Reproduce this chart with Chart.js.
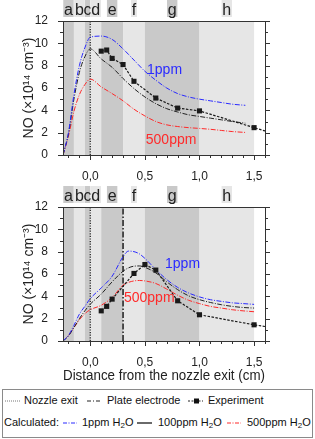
<!DOCTYPE html>
<html>
<head>
<meta charset="utf-8">
<script src="https://cdn.jsdelivr.net/npm/chart.js@4/dist/chart.umd.min.js"></script>
<style>
body { margin: 0; background: #fff; width: 315px; height: 439px; overflow: hidden; font-family: "Liberation Sans", Arial, sans-serif; }
#c1 { position: absolute; left: 0; top: 0; }
#c2 { position: absolute; left: 0; top: 186px; }
#legend { position: absolute; left: 2px; top: 389px; width: 309px; height: 47px; border: 1px solid #8a8a8a; font-size: 11px; color: #111; }
#legend .it { position: absolute; white-space: nowrap; line-height: 13px; }
#legend sub { font-size: 8px; vertical-align: -2px; line-height: 0; }
#legend svg { position: absolute; left: 0; top: 0; }
</style>
</head>
<body>
<canvas id="c1" width="315" height="185"></canvas>
<canvas id="c2" width="315" height="199"></canvas>
<div id="legend">
  <svg width="309" height="47">
    <line x1="2" y1="11" x2="18" y2="11" stroke="#777" stroke-width="1" stroke-dasharray="1,1"/>
    <line x1="84" y1="11" x2="99" y2="11" stroke="#222" stroke-width="1" stroke-dasharray="4,2,1,2"/>
    <line x1="185" y1="11" x2="200" y2="11" stroke="#222" stroke-width="1" stroke-dasharray="2,1.5"/>
    <rect x="191" y="8.5" width="5" height="5" fill="#111"/>
    <line x1="60" y1="33" x2="74" y2="33" stroke="#2a2aff" stroke-width="1" stroke-dasharray="4,1.5,1,1.5"/>
    <line x1="134" y1="33" x2="149" y2="33" stroke="#444" stroke-width="1.6"/>
    <line x1="224" y1="33" x2="238" y2="33" stroke="#ff2a2a" stroke-width="1" stroke-dasharray="4,1.5,1,1.5"/>
  </svg>
  <span class="it" style="left:21px;top:4px">Nozzle exit</span>
  <span class="it" style="left:104px;top:4px">Plate electrode</span>
  <span class="it" style="left:205px;top:4px">Experiment</span>
  <span class="it" style="left:1px;top:26px">Calculated:</span>
  <span class="it" style="left:79px;top:26px">1ppm H<sub>2</sub>O</span>
  <span class="it" style="left:155px;top:26px">100ppm H<sub>2</sub>O</span>
  <span class="it" style="left:244px;top:26px">500ppm H<sub>2</sub>O</span>
</div>
<script>
// shaded zones along the jet (cm) and their letters
const bandEdges = [-0.25, -0.15, -0.05, 0, 0.1, 0.3, 0.5, 1.0, 1.5];
const bandLetters = ['a', 'b', 'c', 'd', 'e', 'f', 'g', 'h'];

const xTickVals = [0, 0.5, 1.0, 1.5];
const yTickVals = [0, 2, 4, 6, 8, 10, 12];

// upper panel
const topX = [-0.25, -0.2, -0.15, -0.1, -0.05, 0, 0.1, 0.2, 0.3, 0.4, 0.5, 0.6, 0.7, 0.8, 0.9, 1.0, 1.1, 1.2, 1.3, 1.42];
const topBlue = [0, 2.0, 5.4, 8.0, 9.6, 10.55, 10.65, 10.35, 9.5, 8.5, 7.5, 6.7, 6.0, 5.5, 5.2, 5.0, 4.85, 4.7, 4.55, 4.45];
const topBlack = [0, 1.9, 5.0, 7.4, 8.8, 9.5, 8.6, 7.85, 6.85, 5.95, 5.2, 4.6, 4.15, 3.85, 3.6, 3.45, 3.3, 3.15, 3.0, 2.85];
const topRed = [0, 1.7, 3.9, 5.4, 6.3, 6.8, 6.1, 5.5, 4.85, 4.1, 3.5, 3.0, 2.7, 2.55, 2.45, 2.38, 2.3, 2.2, 2.1, 2.02];
const expTopX = [0.1, 0.15, 0.2, 0.3, 0.4, 0.6, 0.8, 1.0, 1.5, 1.6];
const expTopY = [9.3, 9.4, 8.65, 8.1, 6.6, 5.1, 4.2, 3.95, 2.45, 2.15];

// lower panel
const botX = [-0.25, -0.2, -0.15, -0.1, -0.05, 0, 0.1, 0.2, 0.3, 0.35, 0.4, 0.45, 0.5, 0.6, 0.7, 0.8, 0.9, 1.0, 1.1, 1.2, 1.3, 1.4, 1.5];
const botBlue = [0, 0.5, 1.4, 2.4, 3.1, 3.8, 4.75, 5.8, 7.55, 8.05, 8.0, 7.8, 7.4, 6.4, 5.5, 4.8, 4.3, 3.95, 3.7, 3.55, 3.42, 3.35, 3.28];
const botBlack = [0, 0.45, 1.2, 2.0, 2.7, 3.3, 4.2, 5.3, 6.25, 6.55, 6.7, 6.72, 6.6, 6.1, 5.3, 4.6, 4.05, 3.7, 3.45, 3.25, 3.1, 3.0, 2.95];
const botRed = [0, 0.5, 1.2, 1.9, 2.45, 2.8, 3.2, 3.9, 5.0, 5.25, 5.38, 5.42, 5.38, 5.15, 4.65, 4.1, 3.65, 3.35, 3.1, 2.95, 2.8, 2.7, 2.62];
const expBotX = [0.1, 0.15, 0.2, 0.4, 0.5, 0.6, 0.8, 1.0, 1.5, 1.6];
const expBotY = [2.7, 3.1, 3.75, 6.05, 6.85, 6.35, 3.6, 2.35, 1.45, 1.3];

const nozzleX = 0;
const plateX = 0.3;

Chart.defaults.font.family = '"Liberation Sans", Arial, sans-serif';
Chart.defaults.color = '#222';

const DARK = '#c9c9c9', LIGHT = '#e6e6e6';
const BLUE = '#2a2aff', RED = '#ff2a2a', BLACK = '#1a1a1a';

const pts = (xs, ys) => xs.map((x, i) => ({ x: x, y: ys[i] }));

const zones = {
  id: 'zones',
  beforeDraw(chart) {
    const { ctx, chartArea: a, scales: { x } } = chart;
    ctx.save();
    ctx.font = '16px "Liberation Sans", Arial, sans-serif';
    ctx.textAlign = 'center';
    ctx.textBaseline = 'alphabetic';
    for (let i = 0; i < bandLetters.length; i++) {
      const x0 = x.getPixelForValue(bandEdges[i]);
      const x1 = x.getPixelForValue(bandEdges[i + 1]);
      ctx.fillStyle = i % 2 === 0 ? DARK : LIGHT;
      ctx.fillRect(x0, a.top, x1 - x0, a.bottom - a.top);
      const bw = Math.min(x1 - x0, ctx.measureText(bandLetters[i]).width + 1.5);
      const cx = (x0 + x1) / 2;
      ctx.fillRect(cx - bw / 2, a.top - 21, bw, 17);
      ctx.fillStyle = '#222';
      ctx.fillText(bandLetters[i], cx, a.top - 6);
    }
    ctx.restore();
  }
};

const frame = {
  id: 'frame',
  afterDraw(chart) {
    const { ctx, chartArea: a, scales: { x, y } } = chart;
    ctx.save();
    ctx.strokeStyle = '#333';
    ctx.lineWidth = 1;
    ctx.strokeRect(Math.round(a.left) + 0.5, Math.round(a.top) + 0.5, Math.round(a.right - a.left), Math.round(a.bottom - a.top));
    ctx.beginPath();
    for (let v = 0; v <= 12; v++) {
      const py = Math.round(y.getPixelForValue(v)) + 0.5;
      const len = v % 2 === 0 ? 5 : 3;
      ctx.moveTo(a.left - len, py); ctx.lineTo(a.left, py);
      ctx.moveTo(a.right, py); ctx.lineTo(a.right + len, py);
    }
    for (let k = -2; k <= 16; k++) {
      const px = Math.round(x.getPixelForValue(k / 10)) + 0.5;
      const len = k % 5 === 0 ? 5 : 3;
      ctx.moveTo(px, a.bottom); ctx.lineTo(px, a.bottom + len);
    }
    ctx.stroke();
    ctx.restore();
  }
};

const tags = {
  id: 'tags',
  afterDatasetsDraw(chart, args, opts) {
    const { ctx, scales: { x, y } } = chart;
    ctx.save();
    ctx.font = '14px "Liberation Sans", Arial, sans-serif';
    ctx.textAlign = 'center';
    ctx.textBaseline = 'middle';
    (opts.items || []).forEach(t => {
      ctx.fillStyle = t.color;
      ctx.fillText(t.text, x.getPixelForValue(t.x), y.getPixelForValue(t.y));
    });
    ctx.restore();
  }
};

function makeChart(id, d, showTitle) {
  const last = d.expX.length - 1;
  const datasets = [
    { data: pts(d.expX, d.expY), borderColor: BLACK, backgroundColor: BLACK, borderWidth: 1.2, borderDash: [2.5, 1.5],
      pointStyle: 'rect', pointBorderWidth: 0, pointRadius: c => c.dataIndex === last ? 0 : 3.6, tension: 0 },
    { data: pts(d.x, d.blue), borderColor: BLUE, borderWidth: 1, borderDash: [5, 1.5, 1, 1.5], pointRadius: 0, cubicInterpolationMode: 'monotone' },
    { data: pts(d.x, d.black), borderColor: '#222', borderWidth: 1, borderDash: [5, 1.5, 1, 1.5], pointRadius: 0, cubicInterpolationMode: 'monotone' },
    { data: pts(d.x, d.red), borderColor: RED, borderWidth: 1, borderDash: [5, 1.5, 1, 1.5], pointRadius: 0, cubicInterpolationMode: 'monotone' },
    { data: [{ x: nozzleX, y: 0 }, { x: nozzleX, y: 12 }], borderColor: '#333', borderWidth: 1.4, borderDash: [1.2, 1.4], pointRadius: 0 }
  ];
  if (d.plate) {
    datasets.push({ data: [{ x: plateX, y: 0 }, { x: plateX, y: 12 }], borderColor: '#111', borderWidth: 1.4, borderDash: [6, 2, 1.5, 2], pointRadius: 0 });
  }
  return new Chart(id, {
    type: 'line',
    data: { datasets: datasets },
    options: {
      responsive: false,
      animation: false,
      layout: { padding: { left: 0, right: 50, top: 21, bottom: 0 } },
      plugins: { legend: { display: false }, tooltip: { enabled: false }, tags: { items: d.tags } },
      scales: {
        x: {
          type: 'linear', min: -0.25, max: 1.6,
          afterBuildTicks: s => { s.ticks = xTickVals.map(v => ({ value: v })); },
          afterFit: s => { s.height = showTitle ? 44 : 30; },
          grid: { display: false }, border: { display: false },
          ticks: { font: { size: 12 }, padding: 6, maxRotation: 0, autoSkip: false,
                   callback: v => v.toFixed(1).replace('.', ',') },
          title: { display: showTitle, text: 'Distance from the nozzle exit (cm)', font: { size: 14 }, padding: { top: 4, bottom: 0 } }
        },
        y: {
          min: 0, max: 12,
          afterBuildTicks: s => { s.ticks = yTickVals.map(v => ({ value: v })); },
          afterFit: s => { s.width = 63; },
          grid: { display: false }, border: { display: false },
          ticks: { font: { size: 12 }, padding: 7 },
          title: { display: true, text: 'NO (×10¹⁴ cm⁻³)', font: { size: 14 }, padding: { top: 21, bottom: 0 } }
        }
      }
    },
    plugins: [zones, frame, tags]
  });
}

makeChart('c1', {
  x: topX, blue: topBlue, black: topBlack, red: topRed, expX: expTopX, expY: expTopY, plate: false,
  tags: [{ text: '1ppm', x: 0.68, y: 7.6, color: BLUE }, { text: '500ppm', x: 0.74, y: 1.35, color: RED }]
}, false);

makeChart('c2', {
  x: botX, blue: botBlue, black: botBlack, red: botRed, expX: expBotX, expY: expBotY, plate: true,
  tags: [{ text: '1ppm', x: 0.845, y: 6.85, color: BLUE }, { text: '500ppm', x: 0.54, y: 3.8, color: RED }]
}, true);
</script>
</body>
</html>
